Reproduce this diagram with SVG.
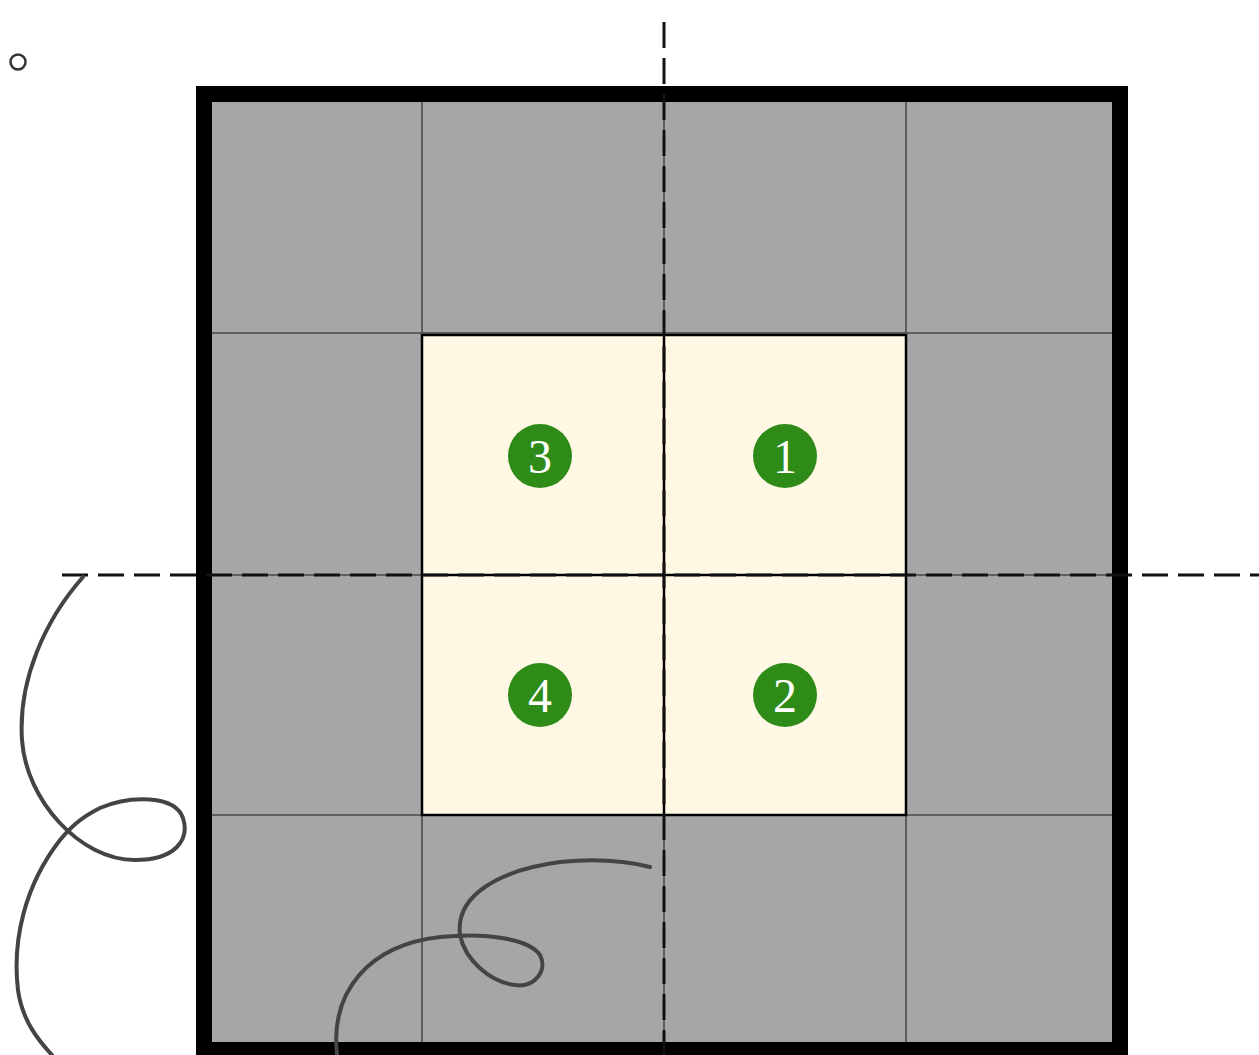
<svg xmlns="http://www.w3.org/2000/svg" width="1259" height="1055" viewBox="0 0 1259 1055">
<style>
.grid{stroke:#5e5e5e;stroke-width:2;fill:none}
.inner{stroke:#000;stroke-width:2.5;fill:none}
.dash{stroke:#111;stroke-width:3;stroke-dasharray:26 10;fill:none}
.curl{stroke:#444;stroke-width:4;fill:none;stroke-linecap:round}
.badge{fill:#2e8b17}
.num{fill:#fff;font-family:"Liberation Serif","DejaVu Serif",serif;font-size:48px;text-anchor:middle}
</style>
<rect width="1259" height="1055" fill="#fff"/>
<circle cx="18" cy="62" r="7.5" fill="none" stroke="#333" stroke-width="2.5"/>
<g id="board">
<rect x="204" y="94" width="916" height="956" fill="#a6a6a6" stroke="#000" stroke-width="16"/>
<line class="grid" x1="422" y1="102" x2="422" y2="1042"/>
<line class="grid" x1="664" y1="102" x2="664" y2="1042"/>
<line class="grid" x1="906" y1="102" x2="906" y2="1042"/>
<line class="grid" x1="212" y1="333" x2="1112" y2="333"/>
<line class="grid" x1="212" y1="575" x2="1112" y2="575"/>
<line class="grid" x1="212" y1="815" x2="1112" y2="815"/>
<rect x="422" y="335" width="484" height="480" fill="#fff8e5" stroke="#000" stroke-width="2.5"/>
<line class="inner" x1="664" y1="335" x2="664" y2="815"/>
<line class="inner" x1="422" y1="575" x2="906" y2="575"/>
</g>
<g id="connectors">
<line class="dash" x1="62" y1="575" x2="1259" y2="575"/>
<line class="dash" x1="664" y1="22" x2="664" y2="1055"/>
<path class="curl" d="M83,577 C45,620 18,680 22,740 C26,800 80,860 135,860 C175,860 190,840 183,818 C175,795 130,795 100,808 C80,818 70,828 60,840 C25,885 12,940 18,990 C22,1020 38,1040 52,1055"/>
<path class="curl" d="M337,1055 C330,990 370,945 440,937 C490,932 530,940 540,955 C548,970 535,988 515,985 C490,982 465,960 460,935 C455,895 500,870 560,862 C600,858 630,862 650,867"/>
</g>
<g id="n3"><circle class="badge" cx="540" cy="456" r="32"/><text class="num" x="540" y="473">3</text></g>
<g id="n1"><circle class="badge" cx="785" cy="456" r="32"/><text class="num" x="785" y="473">1</text></g>
<g id="n4"><circle class="badge" cx="540" cy="695" r="32"/><text class="num" x="540" y="712">4</text></g>
<g id="n2"><circle class="badge" cx="785" cy="695" r="32"/><text class="num" x="785" y="712">2</text></g>
</svg>
